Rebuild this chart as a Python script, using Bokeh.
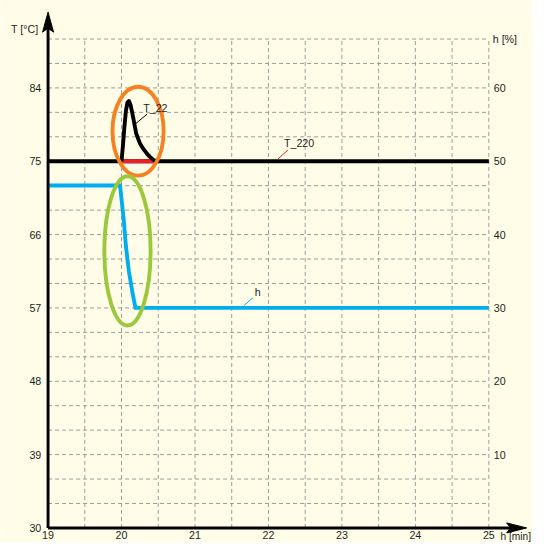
from bokeh.plotting import figure
from bokeh.models import Range1d
from bokeh.core.properties import value
from bokeh.embed import file_html
from bokeh.resources import INLINE

# ---------------- data ----------------
x_ticks = [19, 20, 21, 22, 23, 24, 25]
x_grid = [19.5, 20, 20.5, 21, 21.5, 22, 22.5, 23, 23.5, 24, 24.5, 25]
t_ticks = [30, 39, 48, 57, 66, 75, 84]
t_grid = [33, 36, 39, 42, 45, 48, 51, 54, 57, 60, 63, 66, 69, 72, 75, 78, 81, 84, 87, 90]
h_ticks = [10, 20, 30, 40, 50, 60]

# T_220 : constant temperature
t220_time = [19, 25]
t220_val = [75, 75]

# red section of T_220 under the T_22 peak
red_time = [20.0, 20.46]
red_val = [75, 75]

# T_22 : temperature peak
t22_time = [20.0, 20.02, 20.04, 20.06, 20.08, 20.10, 20.12, 20.14, 20.16, 20.20, 20.25, 20.29, 20.34, 20.38, 20.43, 20.47]
t22_val = [75.0, 77.0, 79.3, 81.2, 82.2, 82.4, 82.0, 81.2, 80.3, 78.4, 77.2, 76.6, 76.0, 75.6, 75.2, 75.0]

# h : humidity [%]
h_time = [19, 19.98, 20.03, 20.06, 20.10, 20.15, 20.19, 25]
h_val = [46.7, 46.7, 42.0, 38.4, 35.0, 32.0, 30.0, 30.0]

# highlight ellipses (x, y in T units, width in min, height in T units)
orange_ell = dict(x=[20.225], y=[78.69], w=[0.696], h=[10.92])
green_ell = dict(x=[20.081], y=[64.0], w=[0.63], h=[18.32])

# ---------------- scales ----------------
W, H = 532, 542
S = W / 548.0                     # page scale
X0, X1 = 18.3525, 25.5944
Y0, Y1 = 28.212, 94.727
PX = (X1 - X0) / W
PY = (Y1 - Y0) / H


def t_to_h(t):
    return (t - 30) / 0.9


BG = "#FFFDE8"
FONT = value("Liberation Sans")
FS = "10.7px"
TXT = "#1e1e1e"
LW = 4 * S

p = figure(width=W, height=H, x_range=Range1d(X0, X1), y_range=Range1d(Y0, Y1),
           output_backend="svg", toolbar_location=None, min_border=0,
           background_fill_color=BG, border_fill_color=BG)
p.extra_y_ranges = {"h": Range1d(t_to_h(Y0), t_to_h(Y1))}
p.axis.visible = False
p.grid.visible = False
p.outline_line_color = None

# grid
p.segment(x0=x_grid, y0=[30] * len(x_grid), x1=x_grid, y1=[90] * len(x_grid),
          line_color="#9c9c9c", line_width=1, line_dash="4 3")
p.segment(x0=[19] * len(t_grid), y0=t_grid, x1=[25] * len(t_grid), y1=t_grid,
          line_color="#9c9c9c", line_width=1, line_dash="4 3")

# curves
p.line(t220_time, t220_val, line_color="black", line_width=LW)
p.line(red_time, red_val, line_color="#EE2027", line_width=LW)
p.line(t22_time, t22_val, line_color="black", line_width=LW, line_join="round")
p.line(h_time, h_val, y_range_name="h", line_color="#00AEEF", line_width=LW, line_join="miter")

# ellipses
p.ellipse(x=orange_ell["x"], y=orange_ell["y"], width=orange_ell["w"], height=orange_ell["h"],
          fill_color=None, line_color="#F58220", line_width=LW)
p.ellipse(x=green_ell["x"], y=green_ell["y"], width=green_ell["w"], height=green_ell["h"],
          fill_color=None, line_color="#9BC83C", line_width=LW)

# leader lines + series labels
p.segment(x0=[20.189], y0=[79.59], x1=[20.348], y1=[80.78], line_color="black", line_width=1)
p.text(x=[20.295], y=[81.5], text=["T_22"], text_font=FONT, text_font_size=FS,
       text_color=TXT, text_align="left", text_baseline="middle")
p.segment(x0=[22.132], y0=[75.3], x1=[22.264], y1=[76.36], line_color="#EE2027", line_width=1)
p.text(x=[22.211], y=[77.2], text=["T_220"], text_font=FONT, text_font_size=FS,
       text_color=TXT, text_align="left", text_baseline="middle")
p.segment(x0=[21.669], y0=[30.33], x1=[21.788], y1=[31.39], y_range_name="h",
          line_color="#00AEEF", line_width=1)
p.text(x=[21.815], y=[32.2], y_range_name="h", text=["h"], text_font=FONT, text_font_size=FS,
       text_color=TXT, text_align="left", text_baseline="middle")

# axes lines with arrow heads
tip_y = 93.30
p.line([19, 19], [30, tip_y - 15 * PY], line_color="black", line_width=3 * S)
p.patch([19, 19 + 5.5 * PX, 19, 19 - 5.5 * PX],
        [tip_y, tip_y - 20 * PY, tip_y - 16 * PY, tip_y - 20 * PY], color="black")
tip_x = 25.515
p.line([19, tip_x - 15 * PX], [30, 30], line_color="black", line_width=3 * S)
p.patch([tip_x, tip_x - 20 * PX, tip_x - 16 * PX, tip_x - 20 * PX],
        [30, 30 + 5 * PY, 30, 30 - 5 * PY], color="black")

# tick labels
p.text(x=[19] * len(t_ticks), y=t_ticks, text=[str(t) for t in t_ticks], x_offset=-7 * S,
       text_font=FONT, text_font_size=FS, text_color=TXT,
       text_align="right", text_baseline="middle")
p.text(x=[25] * len(h_ticks), y=h_ticks, y_range_name="h", text=[str(h) for h in h_ticks],
       x_offset=5 * S, text_font=FONT, text_font_size=FS, text_color=TXT,
       text_align="left", text_baseline="middle")
p.text(x=x_ticks, y=[30] * len(x_ticks), text=[str(x) for x in x_ticks], y_offset=3.5 * S,
       text_font=FONT, text_font_size=FS, text_color=TXT,
       text_align="center", text_baseline="top")

# axis titles
p.text(x=[19], y=[90], text=["T [°C]"], x_offset=-10 * S, y_offset=-10 * S,
       text_font=FONT, text_font_size=FS, text_color=TXT,
       text_align="right", text_baseline="middle")
p.text(x=[25], y=[t_to_h(90)], y_range_name="h", text=["h [%]"], x_offset=4 * S,
       text_font=FONT, text_font_size=FS, text_color=TXT,
       text_align="left", text_baseline="middle")
p.text(x=[25], y=[30], text=["h [min]"], x_offset=12 * S, y_offset=3.5 * S,
       text_font=FONT, text_font_size="10.2px", text_color=TXT,
       text_align="left", text_baseline="top")

open("out.html", "w").write(file_html(p, INLINE))
